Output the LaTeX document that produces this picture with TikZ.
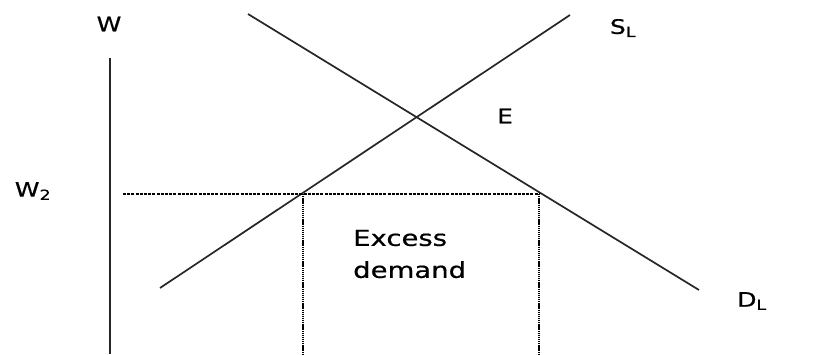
\documentclass[tikz,border=0pt]{standalone}
\usepackage{fontspec}
\newfontfamily\lblfont[FakeStretch=1.25, FakeBold=0.6]{DejaVu Sans}
\usetikzlibrary{positioning}
\tikzset{
	curve/.style    ={line width=1.7pt, black!85},
	wageline/.style ={line width=1.5pt, dash pattern=on 3pt off 1.2pt},
	qline/.style    ={line width=2.2pt, dash pattern=on 1.3pt off 0.8pt},
	lbl/.style      ={font=\lblfont\fontsize{20}{24}\selectfont, inner sep=0pt},
}
\begin{document}
\begin{tikzpicture}[x=1pt, y=-1pt]
	\useasboundingbox (0,0) rectangle (813,354);
	% axis
	\coordinate (ytop) at (110,58);
	\coordinate (ybot) at (110,354);
	\draw[curve] (ytop) -- (ybot);
	% supply and demand
	\coordinate (s0) at (160,288); \coordinate (s1) at (570,15);
	\coordinate (d0) at (248,14);  \coordinate (d1) at (699,290);
	\draw[curve] (s0) -- (s1);
	\draw[curve] (d0) -- (d1);
	% wage floor W2 and quantities
	\coordinate (w2) at (123,194);
	\coordinate (qs) at (303,194); \coordinate (qd) at (539,194);
	\coordinate (qsb) at (303,354); \coordinate (qdb) at (539,354);
	\draw[wageline] (w2) -- (qd);
	\draw[qline] (qs) -- (qsb);
	\draw[qline] (qd) -- (qdb);
	% labels
	\node[lbl] (w) at (109,24) {W};
	\node[lbl] (wtwo) at (33,191) {W\textsubscript{2}};
	\node[lbl] (sl) at (623,28) {S\textsubscript{L}};
	\node[lbl] (dl) at (752,301) {D\textsubscript{L}};
	\node[lbl] (e) at (505,116) {E};
	\node[lbl, anchor=west, align=left, font=\lblfont\fontsize{22}{32}\selectfont] (xd) at (353,254) {Excess\\demand};
\end{tikzpicture}
\end{document}
